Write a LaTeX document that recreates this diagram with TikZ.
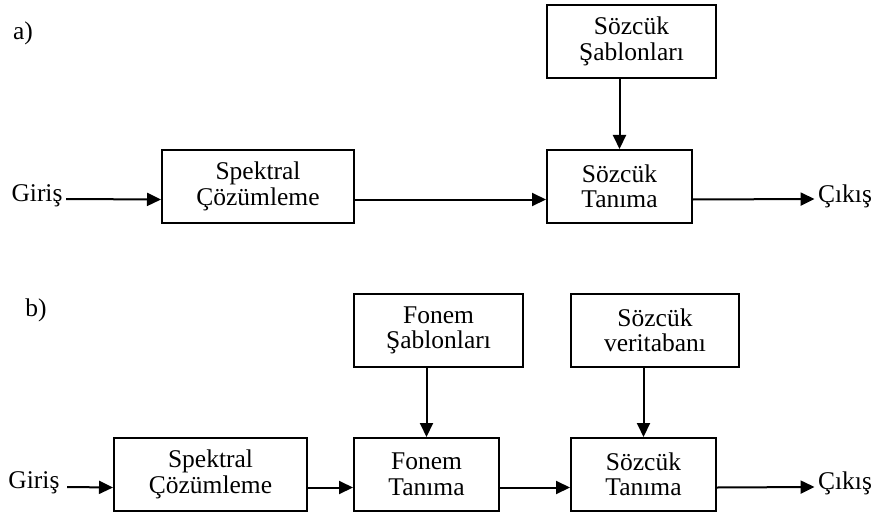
\documentclass[tikz,border=0pt]{standalone}
\usepackage{fontspec}
\setmainfont{Liberation Serif}
\usetikzlibrary{arrows.meta}

\begin{document}
\begin{tikzpicture}[x=1pt, y=-1pt,
    every node/.style={font=\fontsize{25.5}{25.5}\selectfont},
    blok/.style={draw, line width=2pt, align=center, minimum height=73pt, inner sep=2pt},
    ok/.style={line width=2pt, -{Triangle[length=14pt,width=13pt]}}]
    % Fix the page to the size of the reference
    \useasboundingbox (0,0) rectangle (874,513);
    \def\dy{-13pt}

    % Part a): whole-word recognition
    \node at (23,33) {a)};
    \node[blok, minimum width=169pt] (sabA) at (631.5,41.5) {Sözcük\\Şablonları};
    \node[blok, minimum width=192pt] (spekA) at (258,186.5) {Spektral\\Çözümleme};
    \node[blok, minimum width=145pt] (tanA) at (619.5,186.5) {Sözcük\\Tanıma};
    \node (girA) at (37,196) {Giriş};
    \node (cikA) at (845,196) {Çıkış};

    \draw[ok] (girA.east |- 0,199) -- ([yshift=\dy]spekA.west);
    \draw[ok] ([yshift=\dy]spekA.east) -- ([yshift=\dy]tanA.west);
    \draw[ok] (tanA.north |- sabA.south) -- (tanA.north);
    \draw[ok] ([yshift=\dy]tanA.east) -- (cikA.west |- 0,199);

    % Part b): recognition through phonemes
    \node at (36,310) {b)};
    \node[blok, minimum width=169pt] (fsab) at (438.5,330.5) {Fonem\\Şablonları};
    \node[blok, minimum width=168pt] (vsab) at (655,330.5) {Sözcük\\veritabanı};
    \node[blok, minimum width=193pt] (spekB) at (210.5,474.5) {Spektral\\Çözümleme};
    \node[blok, minimum width=145pt] (ftan) at (426.5,474.5) {Fonem\\Tanıma};
    \node[blok, minimum width=145pt] (stan) at (643.5,474.5) {Sözcük\\Tanıma};
    \node (girB) at (34,483) {Giriş};
    \node (cikB) at (845,483) {Çıkış};

    \draw[ok] ([xshift=4pt]girB.east |- 0,487) -- ([yshift=\dy]spekB.west);
    \draw[ok] ([yshift=\dy]spekB.east) -- ([yshift=\dy]ftan.west);
    \draw[ok] ([yshift=\dy]ftan.east) -- ([yshift=\dy]stan.west);
    \draw[ok] (ftan.north |- fsab.south) -- (ftan.north);
    \draw[ok] (stan.north |- vsab.south) -- (stan.north);
    \draw[ok] ([yshift=\dy]stan.east) -- (cikB.west |- 0,487);
\end{tikzpicture}
\end{document}
